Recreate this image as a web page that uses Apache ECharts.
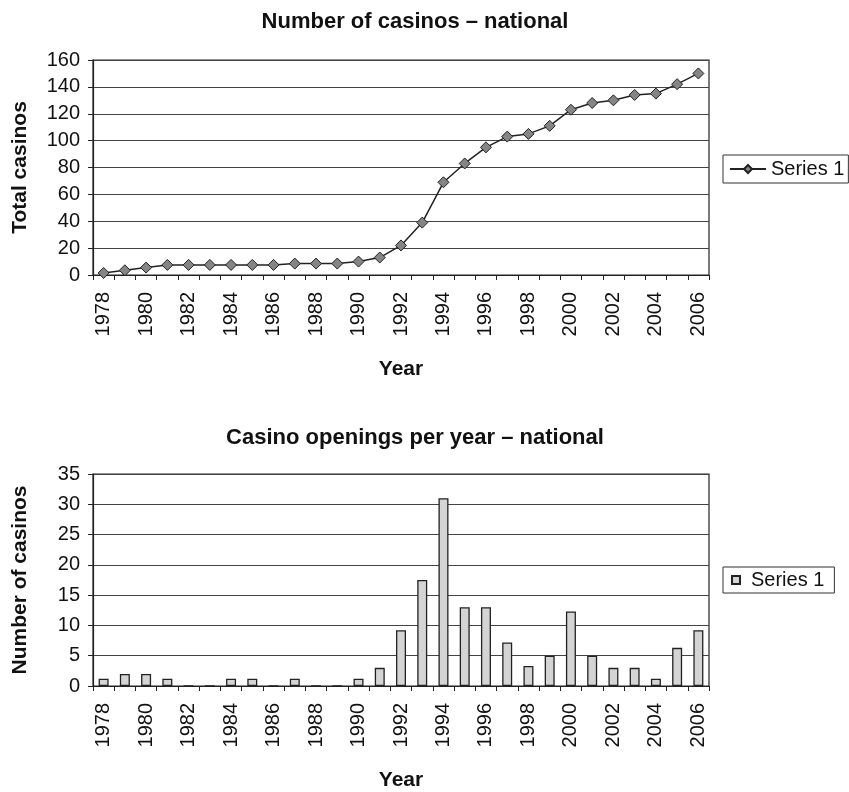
<!DOCTYPE html>
<html>
<head>
<meta charset="utf-8">
<script src="https://cdn.jsdelivr.net/npm/echarts@6/dist/echarts.min.js"></script>
<style>
  html, body { margin: 0; padding: 0; background: #fff; }
  #chart { width: 849px; height: 792px; }
</style>
</head>
<body>
<div id="chart"></div>
<script>
// Years shown on both category axes
const years = ['1978','1979','1980','1981','1982','1983','1984','1985','1986','1987',
  '1988','1989','1990','1991','1992','1993','1994','1995','1996','1997','1998','1999',
  '2000','2001','2002','2003','2004','2005','2006'];

// Cumulative number of casinos, national
const totalCasinos = [1.5, 3.5, 5.5, 7.5, 7.5, 7.5, 7.5, 7.5, 7.5, 8.5,
  8.5, 8.5, 10, 13, 22, 39, 69, 83, 95, 103, 105, 111,
  123, 128, 130, 134, 135, 142, 150];

// Casino openings in each year, national
const openings = [1.2, 2, 2, 1.2, 0, 0, 1.2, 1.2, 0, 1.2,
  0, 0, 1.2, 3, 9.2, 17.5, 31, 13, 13, 7.2, 3.3, 5,
  12.3, 5, 3, 3, 1.2, 6.3, 9.2];

// Value axis ranges
const totalAxis = { min: 0, max: 160, interval: 20 };
const openingsAxis = { min: 0, max: 35, interval: 5 };

const FONT = '"Liberation Sans", Arial, Helvetica, sans-serif';
const INK = '#111';

function catAxis(gridIndex) {
  return {
    type: 'category', gridIndex, data: years, boundaryGap: true,
    name: 'Year', nameLocation: 'middle', nameGap: 84,
    nameTextStyle: { fontFamily: FONT, fontSize: 21, fontWeight: 'bold', color: INK },
    axisLine: { lineStyle: { color: '#222', width: 1.2 } },
    axisTick: { show: true, interval: 0, length: 5, alignWithLabel: false, lineStyle: { color: '#222' } },
    axisLabel: { interval: 1, rotate: 90, margin: 17, fontFamily: FONT, fontSize: 20, color: INK },
    splitLine: { show: false }
  };
}

function valAxis(gridIndex, range, title) {
  return {
    type: 'value', gridIndex, min: range.min, max: range.max, interval: range.interval,
    name: title, nameLocation: 'middle', nameRotate: 90, nameGap: 62,
    nameTextStyle: { fontFamily: FONT, fontSize: 21, fontWeight: 'bold', color: INK },
    axisLine: { show: true, lineStyle: { color: '#222', width: 1.2 } },
    axisTick: { show: true, length: 5, lineStyle: { color: '#222' } },
    axisLabel: { margin: 13, fontFamily: FONT, fontSize: 20, color: INK },
    splitLine: { show: true, lineStyle: { color: '#444', width: 1.2 } }
  };
}

const chart = echarts.init(document.getElementById('chart'), null, { renderer: 'canvas' });

chart.setOption({
  animation: false,
  backgroundColor: '#fff',
  title: [
    { text: 'Number of casinos – national', left: 415, top: 11, textAlign: 'center', padding: 0,
      textStyle: { fontFamily: FONT, fontSize: 22, fontWeight: 'bold', color: INK } },
    { text: 'Casino openings per year – national', left: 415, top: 427, textAlign: 'center', padding: 0,
      textStyle: { fontFamily: FONT, fontSize: 22, fontWeight: 'bold', color: INK } }
  ],
  legend: [
    { data: ['total'], left: 723, top: 155, orient: 'vertical',
      formatter: () => 'Series 1',
      padding: [4, 4, 4, 6], itemGap: 0, itemWidth: 36, itemHeight: 10,
      borderColor: '#333', borderWidth: 1, selectedMode: false,
      textStyle: { fontFamily: FONT, fontSize: 20, color: INK, padding: [0, 0, 0, 0] } },
    { data: [{ name: 'openings', icon: 'rect' }], left: 723, top: 567, orient: 'vertical',
      formatter: () => 'Series 1',
      padding: [3, 10, 3, 8], itemGap: 0, itemWidth: 8, itemHeight: 8,
      borderColor: '#333', borderWidth: 1, selectedMode: false,
      textStyle: { fontFamily: FONT, fontSize: 20, color: INK, padding: [0, 0, 0, 6] } }
  ],
  grid: [
    { left: 93, top: 60, width: 616, height: 215, show: true, borderColor: '#222', borderWidth: 1.2, backgroundColor: 'transparent' },
    { left: 93, top: 474, width: 616, height: 215, show: true, borderColor: '#222', borderWidth: 1.2, backgroundColor: 'transparent' }
  ],
  xAxis: [catAxis(0), catAxis(1)],
  yAxis: [valAxis(0, totalAxis, 'Total casinos'), valAxis(1, openingsAxis, 'Number of casinos')],
  series: [
    { name: 'total', type: 'line', xAxisIndex: 0, yAxisIndex: 0, data: totalCasinos,
      symbol: 'diamond', symbolSize: 11, showAllSymbol: true,
      lineStyle: { color: '#222', width: 1.5 },
      itemStyle: { color: '#858585', borderColor: '#222', borderWidth: 1 } },
    { name: 'openings', type: 'bar', xAxisIndex: 1, yAxisIndex: 1, data: openings,
      barWidth: 10,
      itemStyle: { color: '#d4d4d4', borderColor: '#222', borderWidth: 1.3 } }
  ]
});
</script>
</body>
</html>
